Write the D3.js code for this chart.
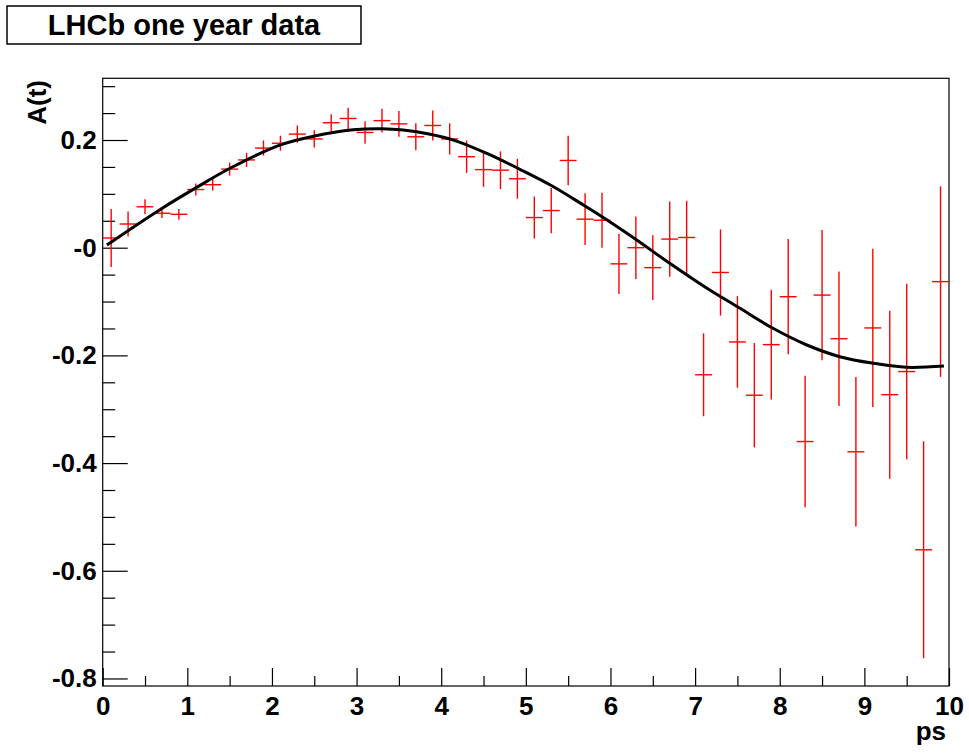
<!DOCTYPE html>
<html>
<head>
<meta charset="utf-8">
<script src="https://cdn.jsdelivr.net/npm/d3@7"></script>
<style>
  html, body { margin: 0; padding: 0; background: #fff; }
  svg { display: block; }
  text { font-family: "Liberation Sans", Arial, Helvetica, sans-serif; font-weight: bold; fill: #000; }
</style>
</head>
<body>
<svg id="chart" width="969" height="753"></svg>
<script>
// ---- data ----
const titleText = "LHCb one year data";
const xAxisTitle = "ps";
const yAxisTitle = "A(t)";

// bin centres (ps)
const binT = [0.1,0.3,0.5,0.7,0.9,1.1,1.3,1.5,1.7,1.9,
              2.1,2.3,2.5,2.7,2.9,3.1,3.3,3.5,3.7,3.9,
              4.1,4.3,4.5,4.7,4.9,5.1,5.3,5.5,5.7,5.9,
              6.1,6.3,6.5,6.7,6.9,7.1,7.3,7.5,7.7,7.9,
              8.1,8.3,8.5,8.7,8.9,9.1,9.3,9.5,9.7,9.9];
const binHalfWidth = 0.1;
// measured asymmetry per bin
const asymValues = [0.018,0.044,0.076,0.064,0.062,0.108,0.117,0.146,0.163,0.185,
                    0.194,0.211,0.202,0.232,0.240,0.214,0.236,0.230,0.206,0.227,
                    0.202,0.169,0.145,0.144,0.128,0.056,0.069,0.162,0.053,0.051,
                    -0.030,0.000,-0.037,0.016,0.019,-0.236,-0.046,-0.175,-0.274,-0.180,
                    -0.091,-0.360,-0.088,-0.169,-0.379,-0.149,-0.273,-0.230,-0.561,-0.063];
// statistical errors
const asymErrors = [0.054,0.023,0.014,0.009,0.010,0.011,0.011,0.012,0.013,0.014,
                    0.014,0.016,0.016,0.016,0.020,0.021,0.022,0.024,0.025,0.028,
                    0.029,0.030,0.032,0.035,0.037,0.039,0.042,0.046,0.048,0.051,
                    0.056,0.058,0.060,0.070,0.068,0.077,0.080,0.085,0.097,0.102,
                    0.107,0.122,0.121,0.125,0.139,0.147,0.156,0.163,0.2015,0.177];

// fitted curve
const fitT = [0.05,0.68,1.11,1.51,2.10,2.49,2.96,3.30,3.55,3.87,4.18,4.54,4.93,
              5.29,5.68,5.96,6.31,6.70,7.14,7.53,7.92,8.32,8.71,9.11,9.50,9.94];
const fitA = [0.005,0.071,0.112,0.148,0.191,0.207,0.219,0.221,0.2186,0.2106,0.198,0.175,0.1456,
              0.1164,0.0793,0.0514,0.0143,-0.029,-0.0754,-0.1125,-0.1497,-0.1807,-0.2024,-0.2147,-0.2221,-0.2197];

// axis ticks
const xMajorTicks = [0,1,2,3,4,5,6,7,8,9,10];
const xTickLabels = ["0","1","2","3","4","5","6","7","8","9","10"];
const xMinorTicks = [0.5,1.5,2.5,3.5,4.5,5.5,6.5,7.5,8.5,9.5];
const yMajorTicks = [-0.8,-0.6,-0.4,-0.2,0,0.2];
const yTickLabels = ["-0.8","-0.6","-0.4","-0.2","-0","0.2"];
const yMinorTicks = [-0.75,-0.7,-0.65,-0.55,-0.5,-0.45,-0.35,-0.3,-0.25,-0.15,-0.1,-0.05,0.05,0.1,0.15,0.25,0.3];

const xDomain = [0, 10];
const yDomain = [-0.814, 0.3146];

// ---- layout ----
const frame = { left: 102.7, right: 949, top: 78.3, bottom: 686 };
const svg = d3.select("#chart");
svg.append("rect").attr("width", 969).attr("height", 753).attr("fill", "#fff");

const x = d3.scaleLinear().domain(xDomain).range([frame.left, frame.right]);
const y = d3.scaleLinear().domain(yDomain).range([frame.bottom, frame.top]);

// frame
svg.append("rect")
  .attr("x", frame.left).attr("y", frame.top)
  .attr("width", frame.right - frame.left).attr("height", frame.bottom - frame.top)
  .attr("fill", "none").attr("stroke", "#000").attr("stroke-width", 1.2);

// y axis major
const yAx = svg.append("g").attr("transform", `translate(${frame.left},0)`)
  .call(d3.axisLeft(y).tickValues(yMajorTicks).tickSize(-25).tickPadding(6)
    .tickFormat((d, i) => yTickLabels[i]));
yAx.select(".domain").remove();
yAx.selectAll("line").attr("stroke", "#000").attr("stroke-width", 1.2);
yAx.selectAll("text").attr("font-size", 26).attr("font-family", null).attr("fill", "#000");

// y axis minor
const yMin = svg.append("g").attr("transform", `translate(${frame.left},0)`)
  .call(d3.axisLeft(y).tickValues(yMinorTicks).tickSize(-12.5).tickFormat(""));
yMin.select(".domain").remove();
yMin.selectAll("line").attr("stroke", "#000").attr("stroke-width", 1.2);

// x axis major
const xAx = svg.append("g").attr("transform", `translate(0,${frame.bottom})`)
  .call(d3.axisBottom(x).tickValues(xMajorTicks).tickSize(-18).tickPadding(11)
    .tickFormat((d, i) => xTickLabels[i]));
xAx.select(".domain").remove();
xAx.selectAll("line").attr("stroke", "#000").attr("stroke-width", 1.2);
xAx.selectAll("text").attr("font-size", 26).attr("font-family", null).attr("fill", "#000");

// x axis minor
const xMin = svg.append("g").attr("transform", `translate(0,${frame.bottom})`)
  .call(d3.axisBottom(x).tickValues(xMinorTicks).tickSize(-10).tickFormat(""));
xMin.select(".domain").remove();
xMin.selectAll("line").attr("stroke", "#000").attr("stroke-width", 1.2);

// axis titles
svg.append("text").attr("x", 946).attr("y", 740)
  .attr("text-anchor", "end").attr("font-size", 26).text(xAxisTitle);
svg.append("text").attr("transform", "translate(46,80) rotate(-90)")
  .attr("text-anchor", "end").attr("font-size", 26).text(yAxisTitle);

// data points with error bars
const pts = binT.map((t, i) => ({ t, a: asymValues[i], e: asymErrors[i] }));
const gPts = svg.append("g").attr("stroke", "#ff0000").attr("stroke-width", 1.4).attr("fill", "none");
gPts.selectAll("line.h").data(pts).join("line").attr("class", "h")
  .attr("x1", d => x(d.t - binHalfWidth)).attr("x2", d => x(d.t + binHalfWidth))
  .attr("y1", d => y(d.a)).attr("y2", d => y(d.a));
gPts.selectAll("line.v").data(pts).join("line").attr("class", "v")
  .attr("x1", d => x(d.t)).attr("x2", d => x(d.t))
  .attr("y1", d => y(d.a - d.e)).attr("y2", d => y(d.a + d.e));

// fitted curve
const fitPts = fitT.map((t, i) => [t, fitA[i]]);
svg.append("path").datum(fitPts)
  .attr("fill", "none").attr("stroke", "#000").attr("stroke-width", 3)
  .attr("d", d3.line().x(d => x(d[0])).y(d => y(d[1])).curve(d3.curveCatmullRom.alpha(0.5)));

// title box
svg.append("rect").attr("x", 7).attr("y", 6).attr("width", 354).attr("height", 38)
  .attr("fill", "#fff").attr("stroke", "#000").attr("stroke-width", 1.5);
svg.append("text").attr("x", 184).attr("y", 35).attr("text-anchor", "middle")
  .attr("font-size", 29).text(titleText);
</script>
</body>
</html>
